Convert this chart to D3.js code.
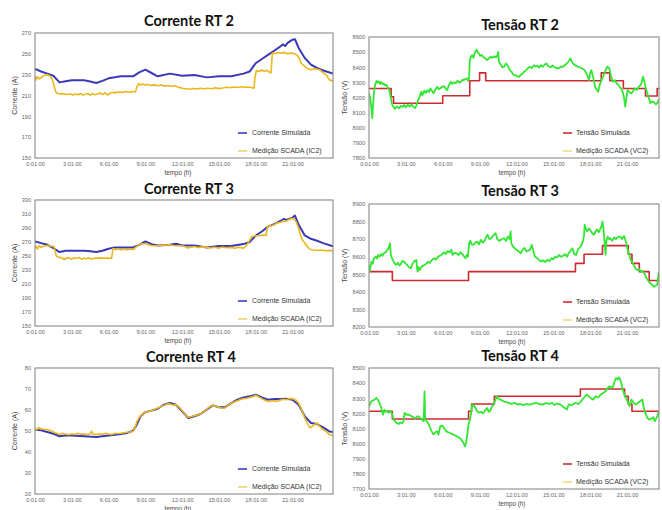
<!DOCTYPE html>
<html><head><meta charset="utf-8">
<script src="https://cdn.jsdelivr.net/npm/d3@7"></script>
<style>body{margin:0;background:#fff}svg{display:block}</style>
</head><body>
<svg id="c" width="662" height="510"></svg>
<script>
// ---------- data ----------
const xTickHours = [0, 3, 6, 9, 12, 15, 18, 21];
const xTickLabels = ["0:01:00","3:01:00","6:01:00","9:01:00","12:01:00","15:01:00","18:01:00","21:01:00"];

const rt2CurTicks = [150,170,190,210,230,250,270];
const rt3CurTicks = [150,170,190,210,230,250,270,290,310,330];
const rt4CurTicks = [20,30,40,50,60,70,80];
const rt2VolTicks = [7800,7900,8000,8100,8200,8300,8400,8500,8600];
const rt3VolTicks = [8200,8300,8400,8500,8600,8700,8800,8900];
const rt4VolTicks = [7700,7800,7900,8000,8100,8200,8300,8400,8500];

// [hour, value]
const rt2CorrenteSim = [[0,235.4],[0.5,233],[1,231],[1.5,229],[2,222.6],[2.5,223.6],[3,224.6],[4,224.6],[4.5,223.5],[5,222],[5.5,224],[6,226.5],[7,228.4],[8,228.4],[8.5,232.2],[9,234.8],[9.5,231.6],[10,228.4],[11,231],[12,229],[13,229.6],[14,227.4],[15,228.4],[16,228.4],[17,231],[17.5,233],[18,241],[18.5,245],[19,249],[19.5,253],[20,257],[20.2,259],[20.4,257.5],[20.6,260.5],[21,263.6],[21.2,264],[21.5,255.6],[22,246],[22.5,239.6],[23,236.4],[23.5,234],[24.3,231]];
const rt2CorrenteScada = [[0,229],[0.1,225],[0.2,228],[0.35,226],[0.5,227],[0.7,229],[1.0,230],[1.2,229],[1.35,227],[1.5,222],[1.65,215],[1.75,212.4],[2.0,211.4],[2.3,211.8],[2.6,211],[2.9,211.5],[3.1,210.5],[3.3,211.4],[3.5,210.8],[3.7,212],[3.9,210.5],[4.1,211.2],[4.3,212],[4.5,210.5],[4.7,211.8],[4.9,210.8],[5.1,211.5],[5.3,212.5],[5.5,211],[5.7,212.5],[5.9,210.5],[6.1,212],[6.3,213],[6.5,212.5],[6.8,213.3],[7.1,213],[7.4,213.8],[7.7,213.2],[8.0,213.6],[8.2,213.6],[8.3,218],[8.45,221.4],[8.6,220],[8.8,221],[9.0,220],[9.2,220.8],[9.4,219.6],[9.7,220.2],[10,219.4],[10.3,220],[10.6,219],[10.9,219.6],[11.1,218.8],[11.4,219.3],[11.7,218],[12.0,217],[12.3,216.5],[12.6,216],[12.9,216.8],[13.2,216.2],[13.5,217],[13.8,216.4],[14.1,217],[14.4,216.5],[14.7,217.3],[15.0,216.6],[15.3,217.2],[15.6,218],[15.9,217.4],[16.2,218.2],[16.5,217.6],[16.8,218.4],[17.1,217.8],[17.4,218.2],[17.7,217.5],[17.85,217],[17.95,228],[18.05,234],[18.3,233],[18.5,234.5],[18.7,233.2],[18.9,234.2],[19.1,232.5],[19.25,231.6],[19.35,250.8],[19.6,250.2],[19.8,251.2],[20.0,250.5],[20.3,251.4],[20.6,250.2],[20.9,250.8],[21.1,250],[21.3,249.5],[21.5,247],[21.7,241],[21.9,239],[22.0,238],[22.2,236],[22.5,234.8],[22.8,235.6],[23.0,235.4],[23.2,234.8],[23.5,232],[23.8,229],[24.0,225],[24.3,224]];

const rt3CorrenteSim = [[0,270.8],[0.5,268.4],[1,266],[1.5,261.3],[2,255.6],[2.5,257.5],[3,257.5],[4,257.5],[4.5,256.8],[5,255.6],[5.5,257.5],[6,260.4],[6.5,262.3],[7,262.3],[8,262.3],[8.5,266],[9,270.8],[9.5,267],[10,265],[11,266],[11.5,267.5],[12,265],[13,265],[14,262.3],[15,264.2],[16,264.2],[17,267],[17.5,270],[18,279.3],[18.5,285],[19,292],[19.5,295.4],[20,300],[20.3,303],[20.5,301.6],[21,304.9],[21.2,307.7],[21.5,294.5],[22,279.3],[22.5,274.6],[23,271.7],[23.5,268.4],[24.3,264]];
const rt3CorrenteScada = [[0,261.3],[0.1,264],[0.2,260],[0.35,265],[0.5,262.3],[0.7,264],[1,265],[1.3,264],[1.55,263.7],[1.65,256],[1.75,249.5],[2.0,248],[2.2,247.5],[2.4,245],[2.6,247.5],[2.8,247],[3.0,245.5],[3.2,247.5],[3.4,246.5],[3.6,247.8],[3.8,245.5],[4.0,247],[4.2,246],[4.4,247.5],[4.6,245.2],[4.8,247],[5.0,246.8],[5.2,247.3],[5.5,247],[5.8,247],[6.1,247],[6.25,247],[6.35,260.4],[6.6,259],[6.8,260.2],[7.0,258.5],[7.2,260],[7.5,259],[7.8,260],[8.0,259],[8.3,263.7],[8.5,266],[8.7,267.5],[9.0,267.5],[9.3,266],[9.5,265],[9.8,264.6],[10,264.6],[10.5,265.5],[11,266],[11.3,265],[11.6,264.6],[12,264.6],[12.3,263],[12.45,261.3],[12.7,262.5],[13,263.7],[13.3,262],[13.6,263],[14,262.3],[14.3,261.5],[14.6,262.5],[15,261.3],[15.3,262.8],[15.6,261.8],[16,262.3],[16.3,261],[16.6,262.5],[17,261.3],[17.15,263],[17.3,267],[17.5,272],[17.7,277.9],[18.0,279],[18.3,279.3],[18.6,280],[18.85,279.5],[18.95,292],[19.2,293],[19.5,294.5],[19.7,297],[20.0,298.3],[20.2,299.5],[20.5,300],[20.7,302],[21.0,304],[21.15,302],[21.3,299],[21.5,289.7],[21.65,280],[21.8,273.2],[22.0,268.4],[22.2,264],[22.3,261.3],[22.5,259],[22.8,258.6],[23.1,257.8],[23.4,258.5],[23.7,257.5],[24,258],[24.3,257.5]];

const rt4CorrenteSim = [[0,50.6],[0.5,50.3],[1,49.5],[1.5,48.7],[2,47.5],[2.5,47.9],[3,47.8],[4,47.5],[5,47.1],[5.5,47.5],[6,47.9],[7,48.6],[7.5,49],[8,50.2],[8.3,53],[8.6,57],[9,59],[9.5,59.7],[10,60.6],[10.5,62.5],[11,63.3],[11.5,62.5],[12,59.4],[12.5,56.2],[13,57],[13.5,58.1],[14,60.2],[14.5,62.2],[15,61.3],[15.5,61.3],[16,63.3],[16.5,64.9],[17,66],[17.5,66.5],[18,67.3],[18.5,66],[19,64.9],[19.5,65.2],[20,65.2],[20.5,65.4],[21,64.9],[21.5,62.5],[22,57],[22.5,53.8],[23,53.3],[23.5,51.7],[24,49.8],[24.3,49.5]];
const rt4CorrenteScada = [[0,51],[0.15,50.6],[0.3,51.6],[0.5,51.1],[0.75,50.8],[1,50.6],[1.25,50.2],[1.5,49.5],[1.75,48.9],[2,48.3],[2.25,48.9],[2.5,48.6],[2.75,48.2],[3,48.6],[3.25,48.4],[3.5,48.9],[3.75,48.5],[4,48.6],[4.25,48.3],[4.5,48.7],[4.62,49.9],[4.72,48.5],[5,48.3],[5.25,48.7],[5.5,48.5],[5.75,48.9],[6,48.6],[6.25,48.4],[6.5,48.8],[7,48.9],[7.25,49.2],[7.5,49.4],[7.75,49.5],[8,49.8],[8.15,51.5],[8.3,54.3],[8.5,56.5],[8.7,57.8],[9,59],[9.25,59.3],[9.5,59.7],[9.75,60.4],[10,61],[10.25,61.5],[10.5,62.2],[10.75,62.8],[11,62.9],[11.25,62.4],[11.5,62.5],[11.75,61.4],[12,59.7],[12.25,57.8],[12.5,56.5],[12.75,56.9],[13,57.3],[13.25,57.6],[13.5,58.1],[13.75,59.2],[14,60.3],[14.25,61.5],[14.5,62.2],[14.75,61.8],[15,61.3],[15.25,60.8],[15.5,61],[15.75,62.2],[16,63.3],[16.25,63.8],[16.5,64.4],[16.75,65],[17,65.4],[17.25,65.6],[17.5,66],[17.75,66.3],[18,67],[18.25,66.2],[18.5,65.4],[18.75,64.6],[19,64.1],[19.25,64.3],[19.5,64.4],[19.75,64.1],[20,64.8],[20.25,65.1],[20.5,64.9],[20.75,65.5],[21,65.4],[21.25,64.8],[21.5,63.3],[21.75,60],[22,56.2],[22.15,54.2],[22.3,52.7],[22.45,51.5],[22.6,52.2],[22.8,53.1],[23,53.8],[23.25,52],[23.5,50.6],[23.75,49.8],[24,48.3],[24.3,48]];

const rt2TensaoSim = [[0,8260],[1.8,8205],[2.0,8162],[6.0,8212],[8.2,8311],[9.0,8363],[9.5,8311],[18.9,8363],[19.6,8311],[20.7,8260],[22.5,8210],[23.45,8260],[23.6,8260]];
const rt2TensaoScada = [[0,8227],[0.08,8200],[0.15,8162],[0.22,8110],[0.27,8063],[0.33,8150],[0.4,8230],[0.48,8280],[0.54,8293],[0.62,8310],[0.7,8298],[0.8,8306],[0.9,8290],[1,8302],[1.1,8288],[1.2,8293],[1.3,8280],[1.4,8285],[1.5,8271],[1.6,8255],[1.7,8235],[1.8,8183],[1.9,8150],[2,8140],[2.1,8125],[2.2,8135],[2.3,8140],[2.45,8128],[2.6,8145],[2.75,8138],[2.85,8150],[3,8135],[3.15,8152],[3.3,8140],[3.45,8155],[3.6,8140],[3.75,8130],[3.85,8145],[4,8184],[4.1,8200],[4.25,8238],[4.35,8215],[4.5,8245],[4.62,8230],[4.75,8249],[4.88,8235],[5,8260],[5.12,8245],[5.25,8227],[5.38,8250],[5.55,8271],[5.68,8255],[5.8,8262],[5.95,8270],[6.1,8276],[6.22,8260],[6.35,8249],[6.5,8280],[6.65,8304],[6.78,8290],[6.9,8300],[7.05,8295],[7.2,8311],[7.35,8298],[7.5,8305],[7.62,8318],[7.7,8315],[7.85,8322],[7.98,8326],[8.08,8310],[8.15,8330],[8.2,8447],[8.3,8470],[8.4,8480],[8.5,8462],[8.6,8495],[8.75,8517],[8.85,8500],[8.95,8490],[9.05,8475],[9.15,8482],[9.3,8468],[9.45,8460],[9.6,8447],[9.75,8458],[9.9,8470],[10.05,8462],[10.2,8473],[10.35,8465],[10.45,8480],[10.52,8501],[10.57,8436],[10.7,8420],[10.85,8400],[11,8403],[11.15,8425],[11.3,8410],[11.45,8381],[11.6,8370],[11.75,8350],[11.9,8348],[12.05,8340],[12.2,8337],[12.35,8350],[12.5,8359],[12.65,8372],[12.8,8381],[12.95,8395],[13.1,8403],[13.25,8395],[13.4,8414],[13.55,8405],[13.7,8410],[13.85,8398],[14,8414],[14.15,8403],[14.3,8418],[14.45,8425],[14.6,8405],[14.8,8400],[14.95,8412],[15.1,8400],[15.25,8395],[15.45,8392],[15.6,8405],[15.8,8403],[15.95,8415],[16.1,8425],[16.25,8440],[16.4,8458],[16.55,8430],[16.75,8414],[16.95,8405],[17.15,8400],[17.35,8392],[17.55,8381],[17.75,8350],[17.9,8315],[18,8360],[18.1,8381],[18.25,8330],[18.4,8271],[18.55,8250],[18.65,8238],[18.8,8290],[18.95,8320],[19.1,8348],[19.25,8380],[19.4,8403],[19.55,8395],[19.7,8340],[19.85,8304],[20,8315],[20.1,8300],[20.3,8282],[20.45,8265],[20.6,8249],[20.75,8200],[20.85,8140],[20.95,8200],[21.05,8249],[21.2,8235],[21.35,8227],[21.5,8245],[21.65,8260],[21.8,8250],[21.95,8270],[22.1,8282],[22.2,8300],[22.3,8337],[22.4,8310],[22.5,8271],[22.65,8227],[22.8,8190],[22.9,8162],[23.05,8175],[23.2,8168],[23.35,8155],[23.45,8162],[23.6,8185]];

const rt3TensaoSim = [[0,8515],[1.9,8465],[8.1,8515],[16.8,8562],[17.5,8614],[19.0,8663],[21.1,8614],[21.4,8562],[22.0,8515],[22.8,8465],[23.6,8465]];
const rt3TensaoScada = [[0,8553],[0.05,8515],[0.12,8540],[0.2,8572],[0.3,8560],[0.4,8590],[0.55,8601],[0.65,8590],[0.75,8610],[0.85,8600],[1,8615],[1.1,8605],[1.2,8620],[1.35,8625],[1.5,8639],[1.6,8650],[1.7,8677],[1.78,8610],[1.88,8590],[2,8572],[2.1,8560],[2.2,8553],[2.35,8565],[2.5,8550],[2.6,8560],[2.7,8575],[2.85,8572],[3,8560],[3.1,8553],[3.25,8540],[3.4,8534],[3.55,8560],[3.7,8575],[3.85,8581],[3.95,8515],[4.05,8540],[4.15,8525],[4.3,8545],[4.5,8553],[4.65,8560],[4.8,8570],[4.95,8565],[5.1,8580],[5.3,8591],[5.45,8585],[5.6,8598],[5.75,8605],[5.9,8610],[6,8618],[6.1,8625],[6.25,8615],[6.4,8632],[6.55,8625],[6.7,8640],[6.8,8610],[6.95,8622],[7.1,8620],[7.3,8610],[7.45,8625],[7.6,8615],[7.75,8600],[7.85,8591],[7.95,8610],[8.05,8600],[8.15,8677],[8.25,8690],[8.35,8670],[8.5,8667],[8.65,8680],[8.8,8686],[8.95,8670],[9.1,8696],[9.25,8680],[9.4,8690],[9.55,8715],[9.65,8725],[9.8,8700],[9.95,8705],[10.1,8720],[10.3,8734],[10.45,8700],[10.6,8690],[10.8,8700],[11,8705],[11.15,8690],[11.3,8715],[11.45,8700],[11.52,8744],[11.58,8677],[11.7,8660],[11.85,8648],[12,8640],[12.2,8629],[12.35,8620],[12.5,8640],[12.65,8650],[12.8,8630],[12.95,8635],[13.1,8639],[13.25,8667],[13.35,8640],[13.5,8601],[13.7,8591],[13.85,8580],[14,8572],[14.15,8580],[14.35,8570],[14.5,8582],[14.7,8575],[14.85,8591],[15,8585],[15.15,8600],[15.3,8595],[15.45,8610],[15.6,8600],[15.8,8605],[15.95,8615],[16.1,8600],[16.25,8620],[16.4,8635],[16.55,8648],[16.7,8615],[16.85,8610],[17,8640],[17.1,8648],[17.25,8660],[17.4,8686],[17.5,8720],[17.55,8782],[17.65,8760],[17.75,8744],[17.9,8760],[18,8753],[18.15,8735],[18.3,8725],[18.45,8745],[18.55,8755],[18.7,8740],[18.85,8763],[18.95,8780],[19,8801],[19.08,8760],[19.15,8700],[19.25,8610],[19.32,8690],[19.42,8714],[19.55,8700],[19.65,8705],[19.8,8690],[19.95,8710],[20.1,8700],[20.25,8712],[20.45,8714],[20.6,8700],[20.75,8718],[20.95,8677],[21.05,8640],[21.15,8620],[21.3,8581],[21.45,8565],[21.55,8553],[21.7,8530],[21.85,8524],[22,8530],[22.1,8515],[22.25,8520],[22.4,8505],[22.5,8490],[22.6,8477],[22.75,8460],[22.9,8448],[23.05,8440],[23.2,8429],[23.35,8435],[23.45,8440],[23.52,8480],[23.6,8515]];

const rt4TensaoSim = [[0,8214],[1.9,8163],[8.1,8214],[8.35,8262],[10.2,8313],[17.2,8361],[20.8,8313],[21.1,8262],[21.4,8214],[23.6,8214]];
const rt4TensaoScada = [[0,8247],[0.1,8265],[0.19,8280],[0.3,8285],[0.46,8291],[0.6,8302],[0.72,8290],[0.85,8270],[1,8236],[1.1,8200],[1.15,8192],[1.25,8225],[1.35,8210],[1.45,8215],[1.6,8205],[1.7,8209],[1.8,8215],[1.9,8190],[2,8159],[2.15,8145],[2.25,8137],[2.4,8130],[2.55,8140],[2.7,8135],[2.8,8145],[2.9,8203],[3,8195],[3.1,8190],[3.25,8192],[3.45,8181],[3.6,8175],[3.75,8165],[3.9,8178],[4,8181],[4.15,8170],[4.3,8159],[4.45,8148],[4.52,8346],[4.57,8160],[4.7,8148],[4.85,8130],[5,8100],[5.1,8081],[5.25,8060],[5.4,8075],[5.55,8081],[5.65,8060],[5.8,8115],[5.95,8120],[6.1,8105],[6.3,8081],[6.45,8075],[6.6,8070],[6.75,8065],[6.85,8060],[7,8055],[7.15,8048],[7.3,8040],[7.4,8037],[7.55,8020],[7.7,8004],[7.8,7982],[7.9,8000],[8,8060],[8.1,8126],[8.25,8170],[8.4,8258],[8.55,8250],[8.7,8230],[8.8,8214],[8.95,8205],[9.1,8210],[9.3,8200],[9.45,8220],[9.6,8236],[9.75,8210],[9.85,8215],[10,8245],[10.15,8258],[10.3,8290],[10.4,8313],[10.5,8300],[10.7,8291],[10.95,8280],[11.15,8275],[11.4,8269],[11.6,8262],[11.85,8270],[12.1,8258],[12.3,8262],[12.55,8255],[12.8,8262],[13.1,8258],[13.35,8265],[13.6,8270],[13.85,8262],[14.1,8258],[14.4,8268],[14.65,8262],[14.9,8270],[15.1,8255],[15.3,8265],[15.6,8258],[15.85,8240],[16.1,8225],[16.25,8260],[16.5,8255],[16.8,8269],[17.05,8262],[17.2,8275],[17.35,8291],[17.55,8310],[17.7,8324],[17.9,8313],[18.05,8300],[18.25,8291],[18.45,8313],[18.65,8305],[18.85,8324],[19.05,8335],[19.25,8346],[19.4,8365],[19.55,8379],[19.7,8370],[19.85,8375],[20,8415],[20.1,8434],[20.25,8425],[20.35,8438],[20.5,8412],[20.65,8357],[20.85,8310],[21.05,8280],[21.2,8247],[21.35,8291],[21.55,8270],[21.7,8258],[21.9,8270],[22.05,8280],[22.25,8291],[22.35,8240],[22.5,8200],[22.65,8170],[22.8,8159],[22.95,8165],[23.15,8175],[23.25,8148],[23.4,8170],[23.5,8190],[23.6,8214]];

// ---------- drawing ----------
const svg = d3.select("#c");
const LBL = "'Liberation Sans', Arial, sans-serif";

const panels = [
  {title:"Corrente RT 2", yTitle:"Corrente (A)", ticks:rt2CurTicks, sim:rt2CorrenteSim, meas:rt2CorrenteScada, kind:"I",
   box:[35,333,33,158], xMax:24.3, titleY:26, titleX:189},
  {title:"Tensão RT 2", yTitle:"Tensão (V)", ticks:rt2VolTicks, sim:rt2TensaoSim, meas:rt2TensaoScada, kind:"V",
   box:[369,659,37,158], xMax:23.6, titleY:30, titleX:520},
  {title:"Corrente RT 3", yTitle:"Corrente (A)", ticks:rt3CurTicks, sim:rt3CorrenteSim, meas:rt3CorrenteScada, kind:"I",
   box:[35,333,200,326], xMax:24.3, titleY:194, titleX:189},
  {title:"Tensão RT 3", yTitle:"Tensão (V)", ticks:rt3VolTicks, sim:rt3TensaoSim, meas:rt3TensaoScada, kind:"V",
   box:[369,659,204,327], xMax:23.6, titleY:196, titleX:520},
  {title:"Corrente RT 4", yTitle:"Corrente (A)", ticks:rt4CurTicks, sim:rt4CorrenteSim, meas:rt4CorrenteScada, kind:"I",
   box:[35,333,368,494], xMax:24.3, titleY:362, titleX:191},
  {title:"Tensão RT 4", yTitle:"Tensão (V)", ticks:rt4VolTicks, sim:rt4TensaoSim, meas:rt4TensaoScada, kind:"V",
   box:[369,659,368,489], xMax:23.6, titleY:361, titleX:520}
];

const styles = {
  I: {simColor:"#3a3ab4", measColor:"#eab71e", legMeas:"#eab71e", simW:2, measW:1.6,
      simLabel:"Corrente Simulada", measLabel:"Medição SCADA (IC2)", step:false, legX:-95, legTxt:-81,
      yTitleOff:-20, tempoX:178},
  V: {simColor:"#cc2b2f", measColor:"#33e633", legMeas:"#f0c030", simW:1.6, measW:1.8,
      simLabel:"Tensão Simulada", measLabel:"Medição SCADA (VC2)", step:true, legX:-96, legTxt:-83,
      yTitleOff:-24, tempoX:512}
};

panels.forEach(p => {
  const st = styles[p.kind];
  const [x0,x1,y0,y1] = p.box;
  const x = d3.scaleLinear().domain([0, p.xMax]).range([x0, x1]);
  const y = d3.scaleLinear().domain(d3.extent(p.ticks)).range([y1, y0]);
  const g = svg.append("g");

  // title
  g.append("text").attr("x", p.titleX).attr("y", p.titleY).attr("text-anchor","middle")
    .style("font-family","Lato, 'Open Sans', sans-serif").style("font-weight","700").style("font-size","14.5px")
    .attr("fill","#111").text(p.title);

  // axes (labels only)
  const xa = d3.axisBottom(x).tickValues(xTickHours).tickSize(0).tickPadding(4)
    .tickFormat((d,i) => xTickLabels[i]);
  g.append("g").attr("transform",`translate(0,${y1})`).call(xa)
    .call(s => s.select(".domain").remove())
    .selectAll("text").style("font-family",LBL).style("font-size","5.6px").attr("fill","#666");
  const ya = d3.axisLeft(y).tickValues(p.ticks).tickSize(0).tickPadding(4).tickFormat(d3.format("d"));
  g.append("g").attr("transform",`translate(${x0},0)`).call(ya)
    .call(s => s.select(".domain").remove())
    .selectAll("text").style("font-family",LBL).style("font-size","5.6px").attr("fill","#666");

  // axis titles
  g.append("text").attr("transform",`translate(${x0 + st.yTitleOff},${(y0+y1)/2}) rotate(-90)`)
    .attr("text-anchor","middle").attr("dy","0.35em")
    .style("font-family",LBL).style("font-size","7px").attr("fill","#444").text(p.yTitle);
  g.append("text").attr("x", st.tempoX).attr("y", y1 + 16.5).attr("text-anchor","middle")
    .style("font-family",LBL).style("font-size","6.3px").attr("fill","#444").text("tempo (h)");

  // series
  const line = d3.line().x(d => x(d[0])).y(d => y(d[1]));
  const simLine = d3.line().x(d => x(d[0])).y(d => y(d[1])).curve(st.step ? d3.curveStepAfter : d3.curveLinear);
  const clipId = "clip" + p.title.replace(/\W/g,"");
  svg.append("clipPath").attr("id", clipId).append("rect")
    .attr("x", x0).attr("y", y0).attr("width", x1-x0).attr("height", y1-y0);
  const plot = g.append("g").attr("clip-path", `url(#${clipId})`);
  plot.append("path").datum(p.sim).attr("d", simLine).attr("fill","none")
    .attr("stroke", st.simColor).attr("stroke-width", st.simW).attr("stroke-linejoin","round");
  plot.append("path").datum(p.meas).attr("d", line).attr("fill","none")
    .attr("stroke", st.measColor).attr("stroke-width", st.measW).attr("stroke-linejoin","round");

  // frame
  g.append("rect").attr("x", x0).attr("y", y0).attr("width", x1-x0).attr("height", y1-y0)
    .attr("fill","none").attr("stroke","#8a8a8a").attr("stroke-width",1.1);

  // legend
  const lx = x1 + st.legX, tx = x1 + st.legTxt;
  const rows = [[st.simLabel, st.simColor, 1.6, y1-25],[st.measLabel, st.legMeas, 1, y1-7]];
  rows.forEach(r => {
    g.append("line").attr("x1", lx).attr("x2", lx+9).attr("y1", r[3]).attr("y2", r[3])
      .attr("stroke", r[1]).attr("stroke-width", r[2]);
    g.append("text").attr("x", tx).attr("y", r[3]).attr("dy","0.35em")
      .style("font-family",LBL).style("font-size","7px").attr("fill","#333").text(r[0]);
  });
});
</script>
</body></html>
